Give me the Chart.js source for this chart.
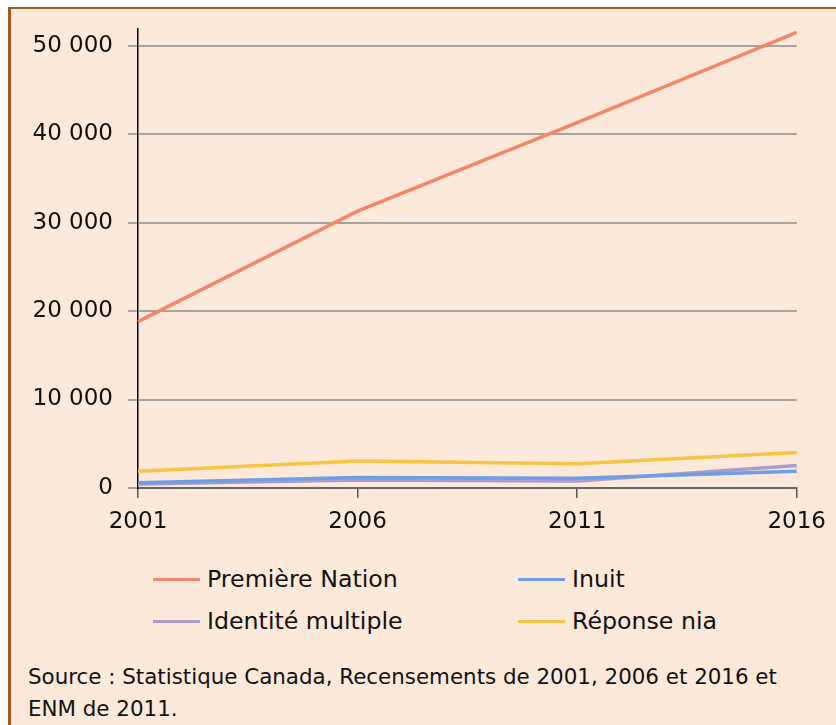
<!DOCTYPE html>
<html>
<head>
<meta charset="utf-8">
<script src="https://cdn.jsdelivr.net/npm/chart.js@4.4.0/dist/chart.umd.min.js"></script>
<style>
    body { margin: 0; background: #fff; font-family: "DejaVu Sans", sans-serif; }
    #page { position: relative; width: 836px; height: 725px; overflow: hidden; }
    #frame {
        position: absolute; left: 8px; top: 7px; right: 0; bottom: 0;
        background: #fde9da;
        border-top: 2px solid #a65a1e;
        border-left: 3px solid #a65a1e;
    }
    #chart { position: absolute; left: 0; top: 0; }
    .leg { position: absolute; font-size: 23.7px; color: #111; line-height: 26px; white-space: nowrap; }
    .leg span.swatch { position: absolute; top: 12px; height: 3px; width: 47px; }
    #source { position: absolute; left: 28px; top: 661px; font-size: 21.4px; line-height: 32px; color: #111; white-space: nowrap; }
</style>
</head>
<body>
<div id="page">
    <div id="frame"></div>
    <canvas id="chart" width="836" height="540"></canvas>
    <div id="legend"></div>
    <div id="source">Source : Statistique Canada, Recensements de 2001, 2006 et 2016 et<br>ENM de 2011.</div>
</div>
<script>
// Data
const years = ['2001', '2006', '2011', '2016'];
const premiereNation = [18800, 31300, 41300, 51500];
const inuit = [600, 1200, 1100, 1900];
const identiteMultiple = [450, 900, 800, 2550];
const reponseNia = [1900, 3050, 2750, 4000];
const seriesNames = ['Première Nation', 'Inuit', 'Identité multiple', 'Réponse nia'];
const seriesColors = ['#f4876a', '#6e9fe6', '#a89ccc', '#f7c444'];
const yTicks = [0, 10000, 20000, 30000, 40000, 50000];

function fmt(v) {
    return String(v).replace(/\B(?=(\d{3})+(?!\d))/g, ' ');
}

const allSeries = [premiereNation, inuit, identiteMultiple, reponseNia];
const datasets = allSeries.map((vals, i) => ({
    label: seriesNames[i],
    data: vals,
    borderColor: seriesColors[i],
    backgroundColor: seriesColors[i],
    borderWidth: 3.5,
    pointRadius: 0,
    tension: 0,
    fill: false
}));

new Chart(document.getElementById('chart'), {
    type: 'line',
    data: { labels: years, datasets: datasets },
    options: {
        responsive: false,
        animation: false,
        layout: { padding: { top: 27, right: 39, left: 0, bottom: 0 } },
        plugins: { legend: { display: false }, tooltip: { enabled: false } },
        scales: {
            x: {
                offset: false,
                afterFit: s => { s.height = 52; },
                grid: { drawOnChartArea: false, drawTicks: true, tickLength: 10, color: '#555', lineWidth: 1.5 },
                border: { display: true, color: '#666', width: 2 },
                ticks: { color: '#111', font: { family: 'DejaVu Sans', size: 23 }, padding: 10, maxRotation: 0 }
            },
            y: {
                min: 0,
                max: 51900,
                afterFit: s => { s.width = 138; },
                afterBuildTicks: s => { s.ticks = yTicks.map(v => ({ value: v })); },
                grid: { color: '#a8a29e', lineWidth: 2, tickLength: 10, drawTicks: true },
                border: { display: true, color: '#000', width: 1.5 },
                ticks: { color: '#111', font: { family: 'DejaVu Sans', size: 23 }, padding: 15, callback: v => fmt(v) }
            }
        }
    }
});

// HTML legend, two columns
const legend = document.getElementById('legend');
const legPos = [[153, 566], [518, 566], [153, 608], [518, 608]];
seriesNames.forEach((name, k) => {
    const d = document.createElement('div');
    d.className = 'leg';
    d.style.left = legPos[k][0] + 'px';
    d.style.top = legPos[k][1] + 'px';
    d.style.paddingLeft = '54px';
    d.innerHTML = '<span class="swatch" style="left:0;background:' + seriesColors[k] + '"></span>' + name;
    legend.appendChild(d);
});
</script>
</body>
</html>
